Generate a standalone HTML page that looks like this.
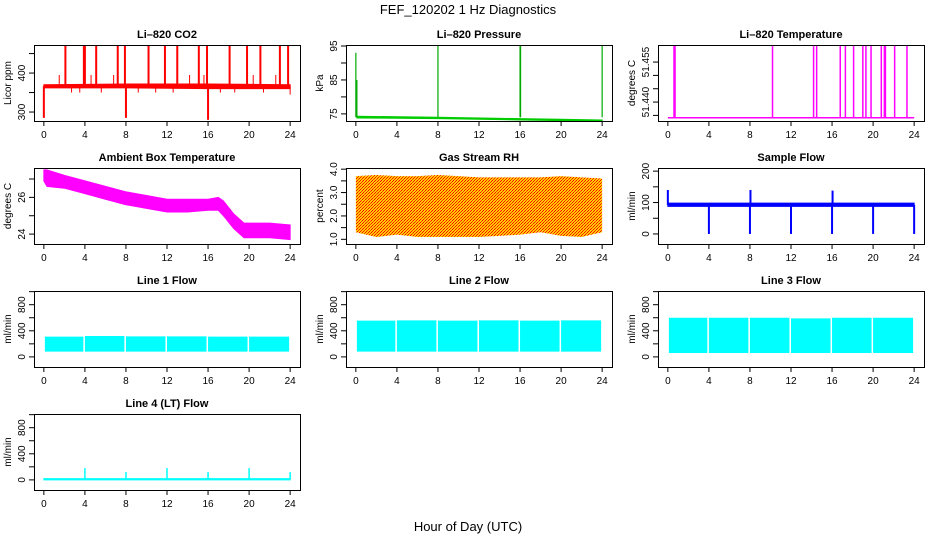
<!DOCTYPE html>
<html><head><meta charset="utf-8"><style>
body{margin:0;background:#fff}
svg{display:block;font-family:"Liberation Sans",sans-serif}
</style></head><body>
<svg id="c" width="936" height="540" viewBox="0 0 936 540">
<defs>
<pattern id="rhpat" width="3" height="3" patternUnits="userSpaceOnUse">
<rect width="3" height="3" fill="#ffcc00"/><rect x="0" y="0" width="1" height="1" fill="#ff0000"/><rect x="2" y="1" width="1" height="1" fill="#ff0000"/><rect x="1" y="2" width="1" height="1" fill="#ff3300"/>
</pattern>
</defs>
<text x="468" y="14" text-anchor="middle" font-size="13">FEF_120202  1 Hz Diagnostics</text>
<text x="468" y="531" text-anchor="middle" font-size="13">Hour of Day (UTC)</text>
</svg>
<script>
// ---- data ----
const xTicks = [0,4,8,12,16,20,24];
// CO2
const co2BandH = [0,8,16,24];
const co2BandLo = [362,362,360,360];
const co2BandHi = [370,372,372,370];
const co2SpikeH = [0,2.1,3.9,4.0,5.1,7.2,7.9,8.0,10.2,11.8,13.0,15.1,15.9,16.0,18.1,19.8,21.1,23.0,23.8];
const co2SpikeTo = [285,470,470,470,470,470,470,285,470,470,470,470,470,280,470,470,470,470,470];
const co2SmallH = [1.5,2.7,3.5,4.6,5.6,6.8,9.2,10.9,12.6,14.2,15.6,17.2,18.6,20.4,21.4,22.6,24];
const co2SmallTo = [395,350,350,395,350,395,350,350,350,395,395,350,350,395,350,395,345];
// Pressure
const pBandH = [0.1,8,16,20,24];
const pBandLo = [73.8,73.6,73.2,73.0,72.8];
const pBandHi = [74.3,74.0,73.6,73.4,73.2];
const pSpikeH = [0,0.1,8,16,16.05,24];
const pSpikeTo = [93,85,95,95,95,95];
// Li-820 temperature
const tBase = 51.4341;
const tSpikeH = [0.6,0.7,10.2,14.2,14.5,16.8,17.3,18.1,19.0,19.3,19.8,20.8,21.1,21.2,22.1,23.3];
const tSpikeTo = [51.461,51.461,51.461,51.461,51.461,51.461,51.461,51.461,51.461,51.461,51.461,51.461,51.461,51.461,51.461,51.461];
// Ambient
const ambH = [0,0.3,2,4,6,8,10,12,14,16,17,17.5,18.5,19.5,20,22,24];
const ambHi = [27.5,27.5,27.2,26.9,26.6,26.3,26.1,25.9,25.9,25.9,26.0,25.8,25.1,24.6,24.6,24.6,24.5];
const ambLo = [26.9,26.6,26.5,26.2,25.9,25.6,25.4,25.2,25.2,25.3,25.3,25.0,24.3,23.8,23.8,23.8,23.7];
// RH
const rhH = [0,2,4,6,8,10,12,14,16,18,20,22,24];
const rhHi = [3.7,3.75,3.7,3.7,3.75,3.7,3.65,3.65,3.65,3.65,3.7,3.65,3.6];
const rhLo = [1.3,1.1,1.2,1.1,1.1,1.1,1.1,1.15,1.2,1.3,1.15,1.1,1.3];
// Sample flow
const sfBandH = [0,24];
const sfBandLo = [88,88];
const sfBandHi = [98,98];
const sfSpikeH = [0,4,8,8.05,12,16,16.05,20,24];
const sfSpikeTo = [140,0,0,140,0,0,138,0,0];
// Line flows: band segments between gaps
const segStart = [0.1,4.0,8.0,12.0,16.0,20.0];
const segEnd = [3.85,7.85,11.85,15.85,19.85,23.9];
const l1Lo = [80,80,80,80,80,80], l1Hi = [310,320,315,315,310,310];
const l2Lo = [80,80,80,80,80,80], l2Hi = [555,560,555,560,555,560];
const l3Lo = [60,60,60,60,60,60], l3Hi = [600,600,600,590,600,600];
const l4SpikeH = [4,8,12,16,20,24];
const l4SpikeTo = [180,120,180,120,180,120];

// ---- layout ----
const colL = [34,346,658], rowT = [45,168,291,414], W = 266, H = 76;
const svg = document.getElementById('c');
const NS = 'http://www.w3.org/2000/svg';
function mk(tag, attrs, parent){const e=document.createElementNS(NS,tag);for(const k in attrs)e.setAttribute(k,attrs[k]);(parent||svg).appendChild(e);return e;}

function panel(name, title, ylab, col, row, ylo, yhi, yTicks, yLabels, draw){
  const L=colL[col], T=rowT[row];
  const g = mk('g',{});
  
  
  const xs = h => L + (h+0.96)*(W/25.92);
  const ys = v => T + H - (v-ylo)/(yhi-ylo)*H;
  const plot = mk('g',{},g);
  
  
  draw(plot, xs, ys);
  const box = mk('rect',{x:L+0.5,y:T+0.5,width:W,height:H,fill:'none',stroke:'#000','stroke-width':1},g);
  
  
  const tt = mk('text',{x:L+W/2,y:T-7,'text-anchor':'middle','font-size':11,'font-weight':'bold'},g);
  tt.textContent = title;
  
  
  const xa = mk('g',{},g);
  
  
  mk('line',{x1:xs(0),x2:xs(24),y1:T+H+0.5,y2:T+H+0.5,stroke:'#000'},xa);
  xTicks.forEach(t=>{
    mk('line',{x1:xs(t),x2:xs(t),y1:T+H,y2:T+H+5,stroke:'#000'},xa);
    const tx=mk('text',{x:xs(t),y:T+H+17,'text-anchor':'middle','font-size':10},xa); tx.textContent=t;
  });
  const ya = mk('g',{},g);
  
  
  yTicks.forEach((t,i)=>{
    const y=ys(t);
    mk('line',{x1:L-5,x2:L,y1:y,y2:y,stroke:'#000'},ya);
    if(yLabels[i]){const tx=mk('text',{x:L-9,y:y,'text-anchor':'middle','font-size':10,transform:`rotate(-90 ${L-9} ${y})`},ya);tx.textContent=yLabels[i];}
  });
  const yl = mk('text',{x:L-23,y:T+H/2,'text-anchor':'middle','font-size':10,transform:`rotate(-90 ${L-23} ${T+H/2})`},g);
  yl.textContent = ylab;
  
  
}
function band(p,xs,ys,H_,lo,hi,fill,sw){
  const pts = H_.map((h,i)=>xs(h)+','+ys(hi[i])).concat(H_.map((h,i)=>xs(h)+','+ys(lo[i])).reverse());
  const e=mk('polygon',{points:pts.join(' '),fill:fill,stroke:sw===0?'none':fill,'stroke-width':1},p);
  
  
}
function spikes(p,xs,ys,H_,from,to,col,w){
  H_.forEach((h,i)=>{
    const e=mk('line',{x1:xs(h),x2:xs(h),y1:ys(Array.isArray(from)?from[i]:from),y2:ys(to[i]),stroke:col,'stroke-width':w||1.5},p);
    
    
  });
}
function segs(p,xs,ys,lo,hi,col){
  segStart.forEach((s,i)=>band(p,xs,ys,[s,segEnd[i]],[lo[i],lo[i]],[hi[i],hi[i]],col,0));
}

panel('co2-panel','Li\u2013820 CO2','Licor ppm',0,0,277,472,[300,350,400,450],['300','','400',''],(p,xs,ys)=>{
  band(p,xs,ys,co2BandH,co2BandLo,co2BandHi,'#ff0000');
  spikes(p,xs,ys,co2SpikeH,366,co2SpikeTo,'#ff0000',2);
  spikes(p,xs,ys,co2SmallH,366,co2SmallTo,'#ff0000',1);
});
panel('pressure-panel','Li\u2013820 Pressure','kPa',1,0,72.9,95.3,[75,80,85,90,95],['75','','85','','95'],(p,xs,ys)=>{
  band(p,xs,ys,pBandH,pBandLo,pBandHi,'#00cc00');
  spikes(p,xs,ys,pSpikeH,74,pSpikeTo,'#00aa00',1.2);
});
panel('li820-temp-panel','Li\u2013820 Temperature','degrees C',2,0,51.4329,51.4614,[51.435,51.44,51.445,51.45,51.455],['','51.440','','','51.455'],(p,xs,ys)=>{
  mk('line',{x1:xs(0),x2:xs(24),y1:ys(tBase),y2:ys(tBase),stroke:'#ff00ff','stroke-width':1.5},p);
  spikes(p,xs,ys,tSpikeH,tBase,tSpikeTo,'#ff00ff',1.5);
});
panel('ambient-temp-panel','Ambient Box Temperature','degrees C',0,1,23.46,27.6,[24,25,26,27],['24','','26',''],(p,xs,ys)=>{
  band(p,xs,ys,ambH,ambLo,ambHi,'#ff00ff');
});
panel('rh-panel','Gas Stream RH','percent',1,1,0.8,4.05,[1,1.5,2,2.5,3,3.5,4],['1.0','','2.0','','3.0','','4.0'],(p,xs,ys)=>{
  band(p,xs,ys,rhH,rhLo,rhHi,'url(#rhpat)',0);
});
panel('sample-flow-panel','Sample Flow','ml/min',2,1,-32,210,[0,50,100,150,200],['0','','100','','200'],(p,xs,ys)=>{
  band(p,xs,ys,sfBandH,sfBandLo,sfBandHi,'#0000ff');
  spikes(p,xs,ys,sfSpikeH,92,sfSpikeTo,'#0000ff',2);
});
const flowT=[0,200,400,600,800,1000], flowL=['0','','400','','800',''];
panel('line1-flow-panel','Line 1 Flow','ml/min',0,2,-155,1010,flowT,flowL,(p,xs,ys)=>segs(p,xs,ys,l1Lo,l1Hi,'#00ffff'));
panel('line2-flow-panel','Line 2 Flow','ml/min',1,2,-155,1010,flowT,flowL,(p,xs,ys)=>segs(p,xs,ys,l2Lo,l2Hi,'#00ffff'));
panel('line3-flow-panel','Line 3 Flow','ml/min',2,2,-155,1010,flowT,flowL,(p,xs,ys)=>segs(p,xs,ys,l3Lo,l3Hi,'#00ffff'));
panel('line4-flow-panel','Line 4 (LT) Flow','ml/min',0,3,-155,1010,flowT,flowL,(p,xs,ys)=>{
  band(p,xs,ys,[0,24],[0,0],[20,20],'#00ffff');
  spikes(p,xs,ys,l4SpikeH,10,l4SpikeTo,'#00ffff',1.5);
});
</script>
</body></html>
